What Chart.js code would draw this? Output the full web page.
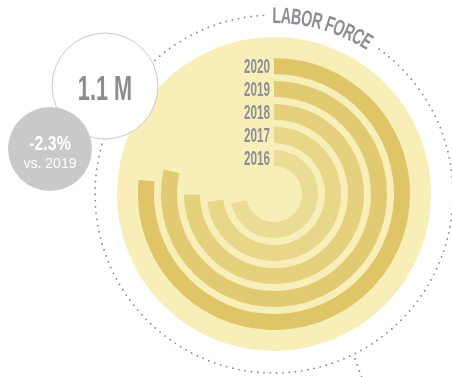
<!DOCTYPE html>
<html>
<head>
<meta charset="utf-8">
<script src="https://cdn.jsdelivr.net/npm/chart.js@4.4.1/dist/chart.umd.min.js"></script>
<style>
  html, body { margin: 0; padding: 0; background: #fff; }
  #wrap { position: relative; width: 452px; height: 377px; }
</style>
</head>
<body>
<div id="wrap"><canvas id="rings"></canvas></div>
<script>
// labor force by year, in millions (outer ring first)
const years = ["2020", "2019", "2018", "2017", "2016"];
const laborForce = [1.10, 1.126, 1.075, 1.05, 1.025];
const fullCircle = 1.435; // value of a complete turn
const ringColors = ["#dfc468", "#e2ca73", "#e5d07e", "#e8d689", "#ebdc95"];

const headline = "1.1 M";
const changeText = "-2.3%";
const changeSub = "vs. 2019";
const title = "LABOR FORCE";

const datasets = [];
years.forEach((y, i) => {
  datasets.push({
    label: y,
    data: [laborForce[i], fullCircle - laborForce[i]],
    backgroundColor: [ringColors[i], "rgba(0,0,0,0)"],
    weight: 16,
  });
  if (i < years.length - 1) {
    // empty ring used as the gap
    datasets.push({ label: "", data: [1], backgroundColor: ["rgba(0,0,0,0)"], weight: 7 });
  }
});

function scaledText(ctx, text, x, y, font, color, sx, align) {
  ctx.save();
  ctx.font = font;
  ctx.fillStyle = color;
  ctx.textBaseline = "alphabetic";
  ctx.textAlign = align || "center";
  ctx.translate(x, y);
  ctx.scale(sx, 1);
  ctx.fillText(text, 0, 0);
  ctx.restore();
}

const decor = {
  id: "decor",
  beforeDatasetsDraw(chart) {
    const ctx = chart.ctx;
    const arc = chart.getDatasetMeta(0).data[0];
    const cx = arc.x, cy = arc.y;

    // dotted ring (gap left for the title)
    ctx.save();
    ctx.fillStyle = "#888";
    const rd = 179;
    const step = 6.3 / rd;
    const a0 = (36 * Math.PI) / 180, a1 = (357 * Math.PI) / 180;
    for (let a = a0; a <= a1; a += step) {
      ctx.beginPath();
      ctx.arc(cx + rd * Math.sin(a), cy - rd * Math.cos(a), 0.9, 0, Math.PI * 2);
      ctx.fill();
    }
    // small leader at the bottom
    for (let k = 0; k < 4; k++) {
      ctx.beginPath();
      ctx.arc(355 + k * 2.2, 359 + k * 6, 0.9, 0, Math.PI * 2);
      ctx.fill();
    }
    ctx.restore();

    // pale disc behind the rings
    ctx.save();
    ctx.fillStyle = "#f7eeb8";
    ctx.beginPath();
    ctx.arc(cx, cy, 157, 0, Math.PI * 2);
    ctx.fill();
    ctx.restore();
  },
  afterDatasetsDraw(chart) {
    const ctx = chart.ctx;
    const first = chart.getDatasetMeta(0).data[0];
    const cx = first.x, cy = first.y;

    // year labels at the start of each ring
    years.forEach((y, i) => {
      const el = chart.getDatasetMeta(i * 2).data[0];
      const mid = (el.outerRadius + el.innerRadius) / 2;
      scaledText(ctx, y, cx - 4, cy - mid + 7, "bold 19.5px 'Liberation Sans'", "#8e8f93", 0.6, "right");
    });

    // curved title
    ctx.save();
    ctx.font = "bold 22.5px 'Liberation Sans'";
    ctx.fillStyle = "#8e8f93";
    ctx.textAlign = "center";
    ctx.textBaseline = "alphabetic";
    const rt = 179, sx = 0.63;
    let ang = (-0.5 * Math.PI) / 180;
    for (const ch of title) {
      const w = ctx.measureText(ch).width * sx;
      const a = ang + w / 2 / rt;
      ctx.save();
      ctx.translate(cx, cy);
      ctx.rotate(a);
      ctx.translate(0, -rt + 8);
      ctx.scale(sx, 1);
      ctx.fillText(ch, 0, 0);
      ctx.restore();
      ang += w / rt;
    }
    ctx.restore();

    // headline bubble
    ctx.save();
    ctx.fillStyle = "#fff";
    ctx.strokeStyle = "#c9c9c9";
    ctx.lineWidth = 1;
    ctx.beginPath();
    ctx.arc(105, 86, 53, 0, Math.PI * 2);
    ctx.fill();
    ctx.stroke();
    ctx.fillStyle = "#c8c9cb";
    ctx.beginPath();
    ctx.arc(50, 149, 42, 0, Math.PI * 2);
    ctx.fill();
    ctx.restore();

    scaledText(ctx, headline, 105, 99.5, "bold 35px 'Liberation Sans'", "#8b8c90", 0.62);
    scaledText(ctx, changeText, 50, 150, "bold 21px 'Liberation Sans'", "#ffffff", 0.76);
    scaledText(ctx, changeSub, 50, 168, "14px 'Liberation Sans'", "#ffffff", 1.0);
  },
};

new Chart(document.getElementById("rings"), {
  type: "doughnut",
  data: { labels: ["value", "rest"], datasets: datasets },
  options: {
    responsive: true,
    maintainAspectRatio: false,
    animation: false,
    cutout: 28,
    rotation: 0,
    layout: { padding: { left: 138, right: 42, top: 58, bottom: 47 } },
    elements: { arc: { borderWidth: 0, hoverOffset: 0, offset: 0 } },
    plugins: { legend: { display: false }, tooltip: { enabled: false } },
    events: [],
  },
  plugins: [decor],
});
</script>
</body>
</html>
